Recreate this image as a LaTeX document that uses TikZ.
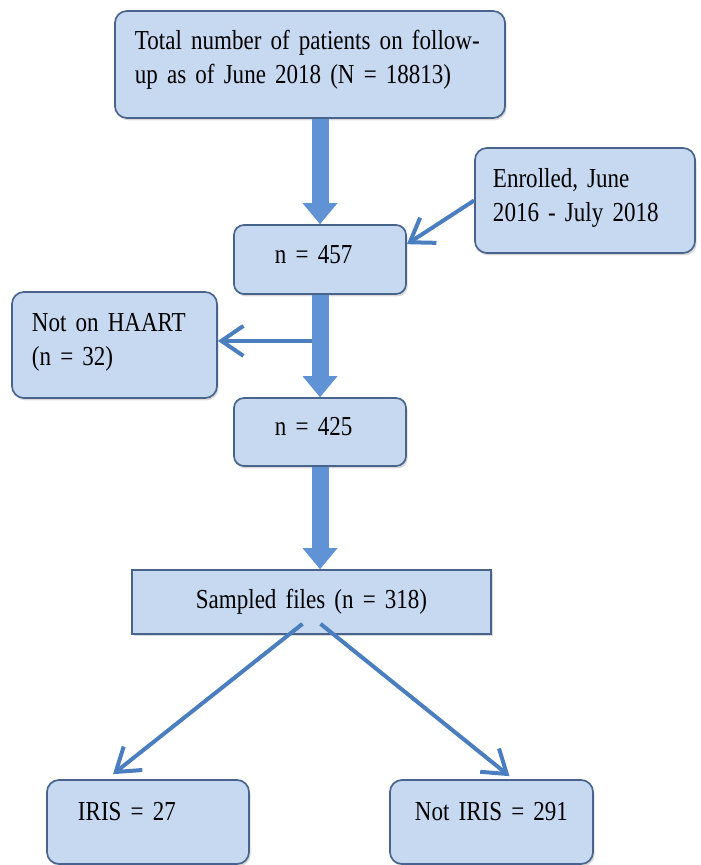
\documentclass[tikz,border=0pt]{standalone}
\usepackage{fontspec}
\setmainfont{Liberation Serif}[FakeStretch=0.84, WordSpace=0.75]
\usetikzlibrary{arrows.meta, calc, shadows}
\definecolor{boxfill}{RGB}{198,217,241}
\definecolor{boxline}{RGB}{72,100,140}
\definecolor{arrowblue}{RGB}{74,126,190}
\definecolor{shaftblue}{RGB}{96,146,214}

\begin{document}
\begin{tikzpicture}[x=0.025cm, y=-0.025cm,
    flowbox/.style={draw=boxline, fill=boxfill, line width=1.2pt, rounded corners=0.3cm,
        inner ysep=0pt, align=left, font=\fontsize{19.5}{23.5}\selectfont,
        drop shadow={shadow xshift=0.04cm, shadow yshift=-0.06cm, opacity=0.3}},
    bigarrow/.style={draw=shaftblue, line width=0.425cm,
        -{Triangle[length=0.525cm, width=0.875cm, line width=0pt]}},
    thinarrow/.style={draw=arrowblue, line width=0.1cm,
        -{Straight Barb[length=0.55cm, width=0.75cm]}}]

        \useasboundingbox (0,0) rectangle (700,865);

        \node[flowbox, text width=8.75cm, inner xsep=0.5cm, text height=0.975cm, text depth=1.7cm]
            (total) at (310,64.5) {Total number of patients on follow-\\up as of June 2018 (N = 18813)};
        \node[flowbox, text width=4.6cm, inner xsep=0.45cm, text height=1cm, text depth=1.625cm]
            (enrolled) at (585,200.5) {Enrolled, June\\2016 - July 2018};
        \node[flowbox, rounded corners=0.25cm, text width=2.25cm, inner xsep=1.025cm, text height=0.95cm, text depth=0.775cm]
            (n457) at (320,259.5) {n = 457};
        \node[flowbox, text width=4.125cm, inner xsep=0.5cm, text height=1cm, text depth=1.65cm]
            (haart) at (114.5,345) {Not on HAART\\(n = 32)};
        \node[flowbox, rounded corners=0.25cm, text width=2.25cm, inner xsep=1.025cm, text height=0.925cm, text depth=0.775cm]
            (n425) at (320,432) {n = 425};
        \node[flowbox, rounded corners=0, align=center, text width=8.375cm, inner xsep=0.3cm, text height=0.95cm, text depth=0.65cm]
            (sampled) at (311.5,602) {Sampled files (n = 318)};
        \node[flowbox, text width=3.5cm, inner xsep=0.775cm, text height=1cm, text depth=1.1cm]
            (iris) at (148,822) {IRIS = 27};
        \node[flowbox, align=center, text width=4.475cm, inner xsep=0.3cm, text height=1cm, text depth=1.1cm]
            (notiris) at (491.5,822) {Not IRIS = 291};

        \coordinate (split) at ($(n457.south)!0.45!(n425.north)$);
        \draw[thinarrow] (split) -- (split -| haart.east);
        \draw[thinarrow] (enrolled.west) -- (n457.10);
        \draw[thinarrow] ($(sampled.south)+(-9,-11)$) -- ($(iris.north)+(-35,-5)$);
        \draw[thinarrow] ($(sampled.south)+(9,-11)$) -- ($(notiris.north)+(18,-3)$);

        \draw[bigarrow] (n457.north |- total.south) -- (n457.north);
        \draw[bigarrow] (n457.south) -- (n425.north);
        \draw[bigarrow] (n425.south) -- (n425.south |- sampled.north);
\end{tikzpicture}
\end{document}
